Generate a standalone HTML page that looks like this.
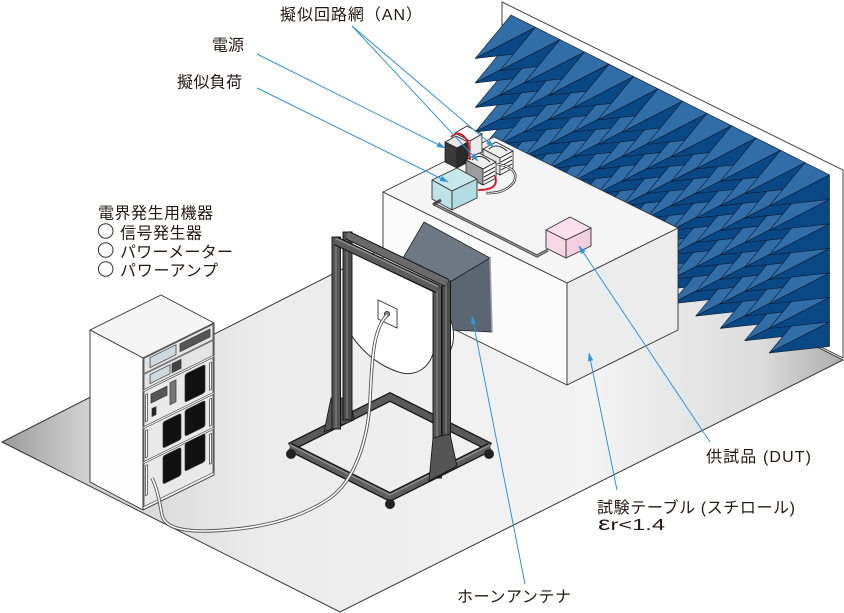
<!DOCTYPE html>
<html><head><meta charset="utf-8">
<style>
html,body{margin:0;padding:0;background:#fff;}
svg{display:block;}
text{font-family:"Liberation Sans","Noto Sans CJK JP",sans-serif;fill:#231815;font-size:16px;}
</style></head><body>
<svg width="844" height="613" viewBox="0 0 844 613" xmlns="http://www.w3.org/2000/svg" xmlns:xlink="http://www.w3.org/1999/xlink">
<defs>
<linearGradient id="fl" gradientUnits="userSpaceOnUse" x1="0" y1="0" x2="844" y2="0">
 <stop offset="0" stop-color="#9a9a9a"/>
 <stop offset="0.1" stop-color="#d0d0d0"/>
 <stop offset="0.3" stop-color="#ebebeb"/>
 <stop offset="0.7" stop-color="#f3f3f3"/>
 <stop offset="0.9" stop-color="#dcdcdc"/>
 <stop offset="1" stop-color="#adadad"/>
</linearGradient>
<g id="py" stroke="#0a1a2c" stroke-width="0.6" stroke-linejoin="round">
 <polygon points="0,0 24.5,12.3 -35.75,43.4" fill="#316ea8"/>
 <polygon points="24.5,12.3 24.5,36.8 -35.75,43.4" fill="#0a4785"/>
</g>
<g id="row">
 <use xlink:href="#py" x="0" y="0"/>
 <use xlink:href="#py" x="24.5" y="12.3"/>
 <use xlink:href="#py" x="49" y="24.6"/>
 <use xlink:href="#py" x="73.5" y="36.9"/>
 <use xlink:href="#py" x="98" y="49.2"/>
 <use xlink:href="#py" x="122.5" y="61.5"/>
 <use xlink:href="#py" x="147" y="73.8"/>
 <use xlink:href="#py" x="171.5" y="86.1"/>
 <use xlink:href="#py" x="196" y="98.4"/>
 <use xlink:href="#py" x="220.5" y="110.7"/>
 <use xlink:href="#py" x="245" y="123"/>
 <use xlink:href="#py" x="269.5" y="135.3"/>
 <use xlink:href="#py" x="294" y="147.6"/>
</g>
<marker id="ar" markerWidth="9" markerHeight="7" refX="8" refY="3.5" orient="auto" markerUnits="userSpaceOnUse">
 <path d="M0,0.8 L8.5,3.5 L0,6.2 z" fill="#2f95d8"/>
</marker>
</defs>

<!-- wall -->
<polygon points="502,2 843,170 843,358 502,188" fill="#fff" stroke="#444" stroke-width="1"/>
<!-- floor -->
<polygon points="2,442 340,612 843,360 502,188" fill="url(#fl)" stroke="#333" stroke-width="1"/>

<!-- absorbers -->
<g transform="translate(511,15)">
 <use xlink:href="#row" x="0" y="147"/>
 <use xlink:href="#row" x="0" y="122.5"/>
 <use xlink:href="#row" x="0" y="98"/>
 <use xlink:href="#row" x="0" y="73.5"/>
 <use xlink:href="#row" x="0" y="49"/>
 <use xlink:href="#row" x="0" y="24.5"/>
 <use xlink:href="#row" x="0" y="0"/>
</g>

<!-- table -->
<g stroke="#333" stroke-width="0.9" stroke-linejoin="round">
 <polygon points="383,192 567,283 567,385 383,294" fill="#fbfbfb"/>
 <polygon points="567,283 678,228 678,330 567,385" fill="#ececec"/>
 <polygon points="383,192 494,137 678,228 567,283" fill="#f5f5f5"/>
</g>

<!-- cable on table -->
<path d="M441,200 L434,204 L537,256 L548,250" fill="none" stroke="#444" stroke-width="3" stroke-linejoin="round"/>
<path d="M441,200 L434,204 L537,256 L548,250" fill="none" stroke="#9a9a9a" stroke-width="1.2" stroke-linejoin="round"/>

<!-- AN equipment -->
<g stroke="#222" stroke-width="0.8" stroke-linejoin="round">
 <polygon points="455,133 467,126 482,134 470,141" fill="#fafafa"/>
 <polygon points="470,141 482,134 482,152 470,159" fill="#eaeaea"/>
 <polygon points="445,142 456,136 468,142 457,148" fill="#e8e8e8"/>
 <polygon points="445,142 457,148 457,168 445,162" fill="#3a3a3a"/>
 <polygon points="457,148 468,142 468,162 457,168" fill="#2a2a2a"/>
 <polygon points="483,149 496,142 513,151 500,158" fill="#f0f0f0"/>
 <polygon points="483,149 500,158 500,175 483,166" fill="#e2e2e2"/>
 <polygon points="500,158 513,151 513,168 500,175" fill="#f7f7f7"/>
 <polygon points="466,160 479,153 496,162 483,169" fill="#eeeeee"/>
 <polygon points="466,160 483,169 483,185 466,176" fill="#9c9c9c"/>
 <polygon points="483,169 496,162 496,178 483,185" fill="#f7f7f7"/>
</g>
<g stroke="#111" stroke-width="0.9">
 <path d="M472,160 Q480,152 490,162"  fill="none"/>
 <path d="M489,149 Q497,142 507,151" fill="none"/>
 <line x1="484" y1="173" x2="495" y2="167"/><line x1="484" y1="177" x2="495" y2="171"/><line x1="484" y1="181" x2="495" y2="175"/>
 <line x1="501" y1="162" x2="512" y2="156"/><line x1="501" y1="166" x2="512" y2="160"/><line x1="501" y1="170" x2="512" y2="164"/>
</g>
<path d="M451,137 Q460,128 468,142 L470,160" fill="none" stroke="#d8141b" stroke-width="1.8"/>
<path d="M495,176 Q500,190 478,190" fill="none" stroke="#d8141b" stroke-width="1.8"/>
<path d="M497,164 Q520,168 514,182 Q505,194 486,193" fill="none" stroke="#222" stroke-width="2.4"/>
<path d="M497,164 Q520,168 514,182 Q505,194 486,193" fill="none" stroke="#fff" stroke-width="1"/>

<!-- light blue box -->
<g stroke="#333" stroke-width="0.9" stroke-linejoin="round">
 <polygon points="432,180 457,168 477,179 452,191" fill="#c8e7ec"/>
 <polygon points="432,180 452,191 452,210 432,199" fill="#bde2e8"/>
 <polygon points="452,191 477,179 477,198 452,210" fill="#b2dbe2"/>
</g>
<path d="M441,200 L434,204" stroke="#444" stroke-width="3"/>

<!-- DUT pink box -->
<g stroke="#333" stroke-width="0.9" stroke-linejoin="round">
 <polygon points="546,230 570,217 591,228 566,240" fill="#fbe0ec"/>
 <polygon points="546,230 566,240 566,258 546,248" fill="#f9d8e6"/>
 <polygon points="566,240 591,228 591,246 566,258" fill="#f2cfdf"/>
</g>

<!-- horn -->
<g stroke="#222" stroke-width="0.8" stroke-linejoin="round">
 <polygon points="424,222 490,258 450,282 403,258" fill="#6e7885"/>
 <polygon points="450,282 490,258 492,332 450,330" fill="#5b6673"/>
 <line x1="490" y1="258" x2="492" y2="332" stroke="#9aa3ad" stroke-width="1.5"/>
</g>

<!-- base back bars -->
<polyline points="290,447 390,397 490,447" fill="none" stroke="#111" stroke-width="9" stroke-linejoin="miter"/>
<polyline points="290,447 390,397 490,447" fill="none" stroke="#5a5a5a" stroke-width="6.5" stroke-linejoin="miter"/>

<!-- disc -->
<path d="M346,250 L434,292 L434,350 C430,368 416,376 402,373 C376,366 356,346 346,326 Z" fill="#fff" stroke="#333" stroke-width="1"/>
<path d="M449,316 C456,330 454,346 449,352" fill="#fff" stroke="#333" stroke-width="1"/>
<polygon points="378,300 397,309 397,328 378,319" fill="#fff" stroke="#333" stroke-width="0.9"/>
<circle cx="387" cy="314" r="2.6" fill="#888" stroke="#222" stroke-width="0.8"/>

<!-- left gusset and posts -->
<polygon points="331,398 350,398 354,420 324,432" fill="#555" stroke="#111" stroke-width="0.8"/>
<rect x="343" y="232" width="9" height="188" fill="#4d4d4d" stroke="#111" stroke-width="0.9"/>
<line x1="347" y1="234" x2="347" y2="418" stroke="#8a8a8a" stroke-width="1"/>
<rect x="332" y="237" width="8.5" height="192" fill="#555" stroke="#111" stroke-width="0.9"/>
<line x1="336" y1="239" x2="336" y2="427" stroke="#8a8a8a" stroke-width="1"/>

<!-- right posts -->
<rect x="442" y="281" width="8.5" height="190" fill="#4d4d4d" stroke="#111" stroke-width="0.9"/>
<line x1="446" y1="283" x2="446" y2="469" stroke="#8a8a8a" stroke-width="1"/>
<rect x="433" y="286" width="8.5" height="192" fill="#555" stroke="#111" stroke-width="0.9"/>
<line x1="437" y1="288" x2="437" y2="476" stroke="#8a8a8a" stroke-width="1"/>

<!-- crossbars -->
<line x1="347" y1="235" x2="447" y2="283" stroke="#111" stroke-width="9"/>
<line x1="347" y1="235" x2="447" y2="283" stroke="#6a6a6a" stroke-width="7"/>
<line x1="336" y1="241" x2="438" y2="289" stroke="#111" stroke-width="9"/>
<line x1="336" y1="241" x2="438" y2="289" stroke="#5c5c5c" stroke-width="7"/>
<line x1="336" y1="238.5" x2="438" y2="286.5" stroke="#9a9a9a" stroke-width="1"/>

<!-- base front bars -->
<polyline points="290,447 390,497 490,447" fill="none" stroke="#111" stroke-width="9" stroke-linejoin="miter"/>
<polyline points="290,447 390,497 490,447" fill="none" stroke="#5e5e5e" stroke-width="6.5" stroke-linejoin="miter"/>
<polyline points="290,445 390,495 490,445" fill="none" stroke="#999" stroke-width="1"/>
<polygon points="433,438 450,434 457,466 429,481" fill="#555" stroke="#111" stroke-width="0.8"/>
<circle cx="291" cy="454" r="5" fill="#222"/>
<circle cx="390" cy="504" r="5" fill="#222"/>
<circle cx="489" cy="454" r="5" fill="#222"/>

<!-- rack -->
<g stroke="#333" stroke-width="0.9" stroke-linejoin="round">
 <polygon points="90,330 161,295 214,323 143,358" fill="#f4f4f4"/>
 <polygon points="90,330 143,358 143,510 90,482" fill="#fdfdfd"/>
 <polygon points="143,358 214,323 214,475 143,510" fill="#f0f0f0"/>
</g>
<g transform="matrix(1,-0.493,0,1,143,358)" stroke="#333" stroke-width="0.7">
 <rect x="1" y="1" width="69" height="15" fill="#e4e4e4"/>
 <rect x="7" y="3" width="26" height="10" fill="#cdd8df"/>
 <rect x="37" y="4" width="30" height="8" fill="#555"/>
 <rect x="1" y="17" width="69" height="15" fill="#e4e4e4"/>
 <rect x="7" y="20" width="20" height="9" fill="#cdd8df"/>
 <rect x="29" y="20" width="9" height="9" fill="#444"/>
 <rect x="1" y="34" width="69" height="35" fill="#e9e9e9"/>
 <rect x="2.5" y="38" width="2" height="27" fill="#fff"/>
 <rect x="66.5" y="38" width="2" height="27" fill="#fff"/>
 <rect x="8" y="40" width="16" height="9" fill="#555"/>
 <rect x="27" y="38" width="6" height="22" fill="#777"/>
 <rect x="9" y="55" width="4" height="8" fill="#222"/>
 <rect x="42" y="37" width="20" height="28" rx="2" fill="#111"/>
 <rect x="1" y="71" width="69" height="33" fill="#e9e9e9"/>
 <rect x="2.5" y="74" width="2" height="27" fill="#fff"/>
 <rect x="66.5" y="74" width="2" height="27" fill="#fff"/>
 <rect x="20" y="74" width="18" height="26" rx="2" fill="#111"/>
 <rect x="42" y="73" width="20" height="26" rx="2" fill="#111"/>
 <rect x="1" y="106" width="69" height="43" fill="#e9e9e9"/>
 <rect x="2.5" y="109" width="2" height="30" fill="#fff"/>
 <rect x="66.5" y="109" width="2" height="30" fill="#fff"/>
 <rect x="20" y="108" width="18" height="28" rx="2" fill="#111"/>
 <rect x="42" y="106" width="20" height="28" rx="2" fill="#111"/>
</g>

<!-- white cable -->
<path d="M152,478 C158,490 160,505 162,515 C165,530 190,533 225,530 C270,527 305,515 330,498 C355,480 368,440 370,400 C372,365 372,330 387,315" fill="none" stroke="#555" stroke-width="3.4"/>
<path d="M152,478 C158,490 160,505 162,515 C165,530 190,533 225,530 C270,527 305,515 330,498 C355,480 368,440 370,400 C372,365 372,330 387,315" fill="none" stroke="#fff" stroke-width="1.6"/>

<!-- leader lines -->
<g stroke="#2f95d8" stroke-width="1" fill="none">
 <line x1="352" y1="26" x2="478" y2="161" marker-end="url(#ar)"/>
 <line x1="352" y1="26" x2="494" y2="147" marker-end="url(#ar)"/>
 <line x1="257" y1="54" x2="445" y2="148" marker-end="url(#ar)"/>
 <line x1="257" y1="88" x2="448" y2="182" marker-end="url(#ar)"/>
 <line x1="710" y1="442" x2="579" y2="246" marker-end="url(#ar)"/>
 <line x1="617" y1="490" x2="589" y2="353" marker-end="url(#ar)"/>
 <line x1="525" y1="584" x2="472" y2="316" marker-end="url(#ar)"/>
</g>

<!-- labels -->
<text x="280" y="20" textLength="142">擬似回路網（AN）</text>
<text x="212" y="50.5">電源</text>
<text x="177" y="87.5" textLength="65">擬似負荷</text>
<text x="98" y="218.5" textLength="115">電界発生用機器</text>
<g fill="none" stroke="#333" stroke-width="1">
 <circle cx="105.7" cy="231" r="7.3"/>
 <circle cx="105.7" cy="250" r="7.3"/>
 <circle cx="105.7" cy="269" r="7.3"/>
</g>
<text x="120" y="238.5" textLength="82">信号発生器</text>
<text x="120" y="257.5" textLength="113">パワーメーター</text>
<text x="120" y="276" textLength="98">パワーアンプ</text>
<text x="706" y="462" textLength="105">供試品 (DUT)</text>
<text x="597" y="513" textLength="198">試験テーブル (スチロール)</text>
<text x="598" y="530" textLength="67" lengthAdjust="spacingAndGlyphs"><tspan font-size="19">ε</tspan>r&lt;1.4</text>
<text x="457" y="602" textLength="114">ホーンアンテナ</text>
</svg>
</body></html>
